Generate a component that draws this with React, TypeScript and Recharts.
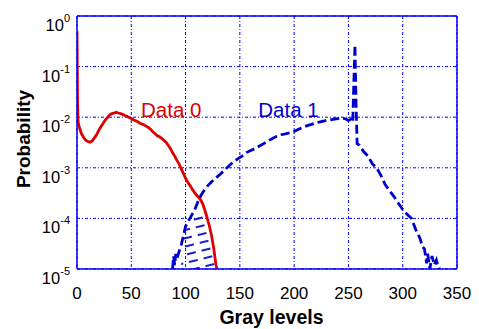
import React from "react";
import {
  ComposedChart,
  Line,
  Area,
  XAxis,
  YAxis,
  CartesianGrid,
  ReferenceLine,
  ReferenceDot,
} from "recharts";

const RED = "#dd0000";
const BLUE = "#0000cc";
const AXIS = "#0000ff";
const FONT = "'Liberation Sans', Arial, sans-serif";

// Data 0 (red, solid)
const data0X = [
  0, 0.5, 1, 2, 4, 6, 8, 10, 12, 14, 16, 18, 20, 22, 24, 26, 28, 30, 32, 34, 36, 38, 40, 42, 44,
  46, 48, 50, 52, 54, 56, 58, 60, 62, 64, 66, 68, 70, 72, 74, 76, 78, 80, 82, 84, 86, 88, 90, 92,
  94, 96, 98, 100, 102, 104, 106, 108, 110, 112, 114, 116, 118, 120, 122, 124, 126, 128, 129,
];
const data0Y = [
  0.5, 0.02, 0.008, 0.0065, 0.0048, 0.004, 0.0035, 0.0033, 0.0032, 0.0034, 0.0039, 0.0045,
  0.0055, 0.0065, 0.0075, 0.0088, 0.0098, 0.011, 0.0118, 0.012, 0.0125, 0.0121, 0.0118, 0.0114,
  0.0108, 0.0104, 0.0099, 0.0094, 0.0089, 0.0085, 0.0081, 0.0076, 0.0073, 0.007, 0.0066, 0.0062,
  0.0057, 0.0051, 0.0047, 0.0043, 0.0041, 0.0038, 0.0035, 0.0032, 0.0028, 0.0024, 0.002, 0.0017,
  0.0014, 0.0012, 0.00095, 0.00078, 0.00062, 0.00052, 0.00045, 0.00038, 0.00033, 0.00029,
  0.00026, 0.00023, 0.00019, 0.00014, 0.0001, 0.00007, 0.000045, 0.000025, 0.000012, 0.00001,
];

// Data 1 (blue, dashed)
const data1X = [
  88, 89, 90, 91, 92, 94, 96, 98, 100, 102, 104, 106, 108, 110, 112, 114, 116, 118, 120, 122,
  124, 126, 128, 132, 136, 140, 144, 148, 152, 156, 160, 164, 168, 172, 176, 180, 184, 188, 192,
  196, 200, 204, 208, 212, 216, 220, 224, 228, 232, 236, 240, 244, 248, 250, 252, 254, 255, 256,
  257, 258, 260, 264, 268, 272, 276, 280, 284, 288, 292, 296, 300, 304, 308, 312, 316, 318, 320,
  322, 323, 325, 327, 329, 331, 333, 335,
];
const data1Y = [
  0.00001, 0.000018, 0.000012, 0.00002, 0.000016, 0.000022, 0.00003, 0.000045, 0.00007,
  0.000085, 0.0001, 0.00012, 0.00014, 0.00018, 0.00023, 0.00028, 0.00033, 0.00038, 0.00043,
  0.00048, 0.00053, 0.00058, 0.00063, 0.00075, 0.0009, 0.0011, 0.0013, 0.0015, 0.0017, 0.002,
  0.0022, 0.0024, 0.0027, 0.003, 0.0034, 0.0038, 0.0042, 0.0045, 0.0047, 0.0049, 0.0052, 0.0058,
  0.0063, 0.0068, 0.0072, 0.0077, 0.0081, 0.0085, 0.0088, 0.0091, 0.0094, 0.0097, 0.0091, 0.0086,
  0.009, 0.008, 0.05, 0.27, 0.02, 0.003, 0.0028, 0.0021, 0.0017, 0.0012, 0.001, 0.0007, 0.00046,
  0.00035, 0.00027, 0.0002, 0.00015, 0.00012, 0.0001, 0.00006, 0.00004, 0.000028, 0.000025,
  0.000013, 0.00002, 0.00001, 0.000018, 0.000012, 0.000015, 0.00001, 0.00001,
];

// overlap region (hatched)
const overlapX = [96, 100, 104, 108, 112, 116, 119, 121, 123, 125, 127, 128];
const overlapY = [
  0.000025, 0.00006, 0.00009, 0.00011, 0.00012, 0.00012, 0.00011, 0.000085, 0.00006, 0.000035,
  0.000018, 0.000012,
];

const xTicks = [0, 50, 100, 150, 200, 250, 300, 350];
const yTicks = [1e-5, 1e-4, 1e-3, 1e-2, 1e-1, 1];

const series0 = data0X.map((x, i) => ({ x, y: data0Y[i] }));
const series1 = data1X.map((x, i) => ({ x, y: data1Y[i] }));
const overlap = overlapX.map((x, i) => ({ x, y: overlapY[i] }));

const XTick = ({ x, y, payload }: any) => (
  <text x={x} y={y + 30} textAnchor="middle" fontSize={17} fontFamily={FONT} fill="#000">
    {payload.value}
  </text>
);

const YTick = ({ x, y, payload }: any) => {
  const exp = Math.round(Math.log10(payload.value));
  return (
    <text x={x - 7} y={y + 15} textAnchor="end" fontFamily={FONT} fill="#000">
      <tspan fontSize={16.5}>10</tspan>
      <tspan fontSize={11} dy={-9}>
        {exp === 0 ? "0" : "-" + Math.abs(exp)}
      </tspan>
    </text>
  );
};

const TextAt = (value: string, color: string) => ({ viewBox }: any) => (
  <text x={viewBox.x} y={viewBox.y} fontSize={20.5} fontFamily={FONT} fill={color}>
    {value}
  </text>
);

export default function App() {
  return (
    <div style={{ position: "absolute", left: 0, top: 0, background: "#fff" }}>
      <ComposedChart width={479} height={329} margin={{ top: 16, right: 22, left: 0, bottom: 0 }}>
        <defs>
          <pattern
            id="hatch"
            patternUnits="userSpaceOnUse"
            width={15}
            height={8}
            patternTransform="rotate(-14)"
          >
            <line x1={0} y1={4} x2={9} y2={4} stroke={BLUE} strokeWidth={1.8} />
          </pattern>
        </defs>
        <CartesianGrid stroke={AXIS} strokeDasharray="3 2 1 2" strokeWidth={1} />
        <XAxis
          dataKey="x"
          type="number"
          domain={[0, 350]}
          ticks={xTicks}
          allowDataOverflow
          height={60}
          tickSize={0}
          tickMargin={0}
          tickLine={false}
          axisLine={{ stroke: AXIS, strokeWidth: 1.5 }}
          tick={<XTick />}
          label={{
            content: ({ viewBox }: any) => (
              <text
                x={viewBox.x + viewBox.width / 2 + 4.5}
                y={viewBox.y + 55}
                textAnchor="middle"
                fontSize={19.5}
                fontWeight="bold"
                fontFamily={FONT}
                fill="#000"
              >
                Gray levels
              </text>
            ),
          }}
        />
        <YAxis
          dataKey="y"
          type="number"
          scale="log"
          domain={[1e-5, 1]}
          ticks={yTicks}
          allowDataOverflow
          width={77}
          tickSize={0}
          tickMargin={0}
          tickLine={false}
          axisLine={{ stroke: AXIS, strokeWidth: 1.5 }}
          tick={<YTick />}
          label={{
            content: ({ viewBox }: any) => {
              const cy = viewBox.y + viewBox.height / 2 - 3.5;
              return (
                <text
                  x={30}
                  y={cy}
                  transform={`rotate(-90 30 ${cy})`}
                  textAnchor="middle"
                  fontSize={19}
                  fontWeight="bold"
                  fontFamily={FONT}
                  fill="#000"
                >
                  Probability
                </text>
              );
            },
          }}
        />
        <ReferenceLine x={350} stroke={AXIS} strokeWidth={1.5} />
        <ReferenceLine y={1} stroke={AXIS} strokeWidth={1.5} />
        <Area
          data={overlap}
          dataKey="y"
          type="linear"
          stroke="none"
          fill="url(#hatch)"
          fillOpacity={1}
          baseValue={1e-5}
          isAnimationActive={false}
        />
        <Line
          data={series0}
          dataKey="y"
          type="linear"
          stroke={RED}
          strokeWidth={2.8}
          dot={false}
          isAnimationActive={false}
        />
        <Line
          data={series1}
          dataKey="y"
          type="linear"
          stroke={BLUE}
          strokeWidth={2.8}
          strokeDasharray="9 4"
          dot={false}
          isAnimationActive={false}
        />
        <ReferenceDot x={59} y={0.01} r={0} stroke="none" fill="none" label={{ content: TextAt("Data 0", RED) }} />
        <ReferenceDot x={167} y={0.01} r={0} stroke="none" fill="none" label={{ content: TextAt("Data 1", BLUE) }} />
      </ComposedChart>
    </div>
  );
}
